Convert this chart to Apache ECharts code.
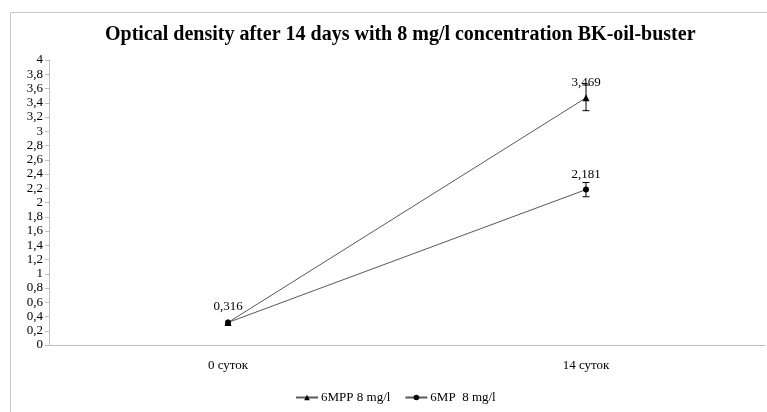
<!DOCTYPE html>
<html><head><meta charset="utf-8">
<script src="https://cdn.jsdelivr.net/npm/echarts@6/dist/echarts.min.js"></script>
<style>html,body{margin:0;padding:0;background:#fff}#c{width:767px;height:412px}</style>
</head><body><div id="c"></div>
<script>
var categories = ['0 суток', '14 суток'];
var seriesNames = ['6MPP 8 mg/l', '6MP  8 mg/l'];
var mppValues = [0.316, 3.469];
var mpValues = [0.316, 2.181];
var mppErr = [0, 0.18];
var mpErr = [0, 0.1];
var yTicks = [0, 0.2, 0.4, 0.6, 0.8, 1, 1.2, 1.4, 1.6, 1.8, 2, 2.2, 2.4, 2.6, 2.8, 3, 3.2, 3.4, 3.6, 3.8, 4];

var FONT = '"Liberation Serif", "Times New Roman", serif';
function fmt(v){ return String(v).replace('.', ','); }

function errData(vals, errs){
  return vals.map(function(v,i){ return [i, v - errs[i], v + errs[i]]; });
}
function errRender(params, api){
  var lo = api.coord([api.value(0), api.value(1)]);
  var hi = api.coord([api.value(0), api.value(2)]);
  if (Math.abs(lo[1]-hi[1]) < 1) return null;
  var w = 3.5;
  var st = {stroke:'#000', lineWidth:1};
  return {type:'group', children:[
    {type:'line', shape:{x1:lo[0],y1:lo[1],x2:hi[0],y2:hi[1]}, style:st},
    {type:'line', shape:{x1:lo[0]-w,y1:lo[1],x2:lo[0]+w,y2:lo[1]}, style:st},
    {type:'line', shape:{x1:hi[0]-w,y1:hi[1],x2:hi[0]+w,y2:hi[1]}, style:st}
  ]};
}

var chart = echarts.init(document.getElementById('c'), null, {renderer:'canvas'});
chart.setOption({
  animation:false,
  backgroundColor:'#fff',
  graphic:[{type:'rect', shape:{x:10.5,y:12.5,width:800,height:450}, style:{fill:'none', stroke:'#c8c8c8', lineWidth:1}, silent:true, z:-1}],
  title:{text:'Optical density after 14 days with 8 mg/l concentration BK-oil-buster', left:100, top:20,
    textStyle:{fontFamily:FONT, fontWeight:'bold', fontSize:20, color:'#000'}},
  grid:{left:49, right:2, top:60, bottom:67},
  legend:{bottom:3, left:290, itemWidth:22, itemHeight:7, itemGap:14,
    textStyle:{fontFamily:FONT, fontSize:13, color:'#000', padding:[0,0,0,-2]},
    data:[seriesNames[0], seriesNames[1]]},
  xAxis:{type:'category', data:categories, boundaryGap:true,
    axisLine:{lineStyle:{color:'#bfbfbf', width:1}}, axisTick:{show:false},
    axisLabel:{fontFamily:FONT, fontSize:13, color:'#000', margin:14}},
  yAxis:{type:'value', min:0, max:4, interval:0.2,
    axisLine:{show:true, lineStyle:{color:'#bfbfbf'}}, axisTick:{show:true, length:4, lineStyle:{color:'#bfbfbf'}},
    splitLine:{show:false},
    axisLabel:{fontFamily:FONT, fontSize:13, color:'#000', margin:6, formatter:function(v){ return fmt(+v.toFixed(1)); }}},
  series:[
    {name:seriesNames[0], type:'line', data:mppValues, symbol:'triangle', symbolSize:7,
      lineStyle:{color:'#595959', width:1}, itemStyle:{color:'#000'},
      label:{show:true, position:'top', distance:5, fontFamily:FONT, fontSize:13, color:'#000', formatter:function(p){ return p.dataIndex===0 ? '' : fmt(p.value); }}, z:3},
    {name:seriesNames[1], type:'line', data:mpValues, symbol:'circle', symbolSize:6,
      lineStyle:{color:'#595959', width:1}, itemStyle:{color:'#000'},
      label:{show:true, position:'top', distance:6, fontFamily:FONT, fontSize:13, color:'#000', formatter:function(p){ return fmt(p.value); }}, z:3},
    {type:'custom', renderItem:errRender, data:errData(mppValues, mppErr), z:4, silent:true, encode:{x:0,y:[1,2]}},
    {type:'custom', renderItem:errRender, data:errData(mpValues, mpErr), z:4, silent:true, encode:{x:0,y:[1,2]}}
  ]
});
</script></body></html>
